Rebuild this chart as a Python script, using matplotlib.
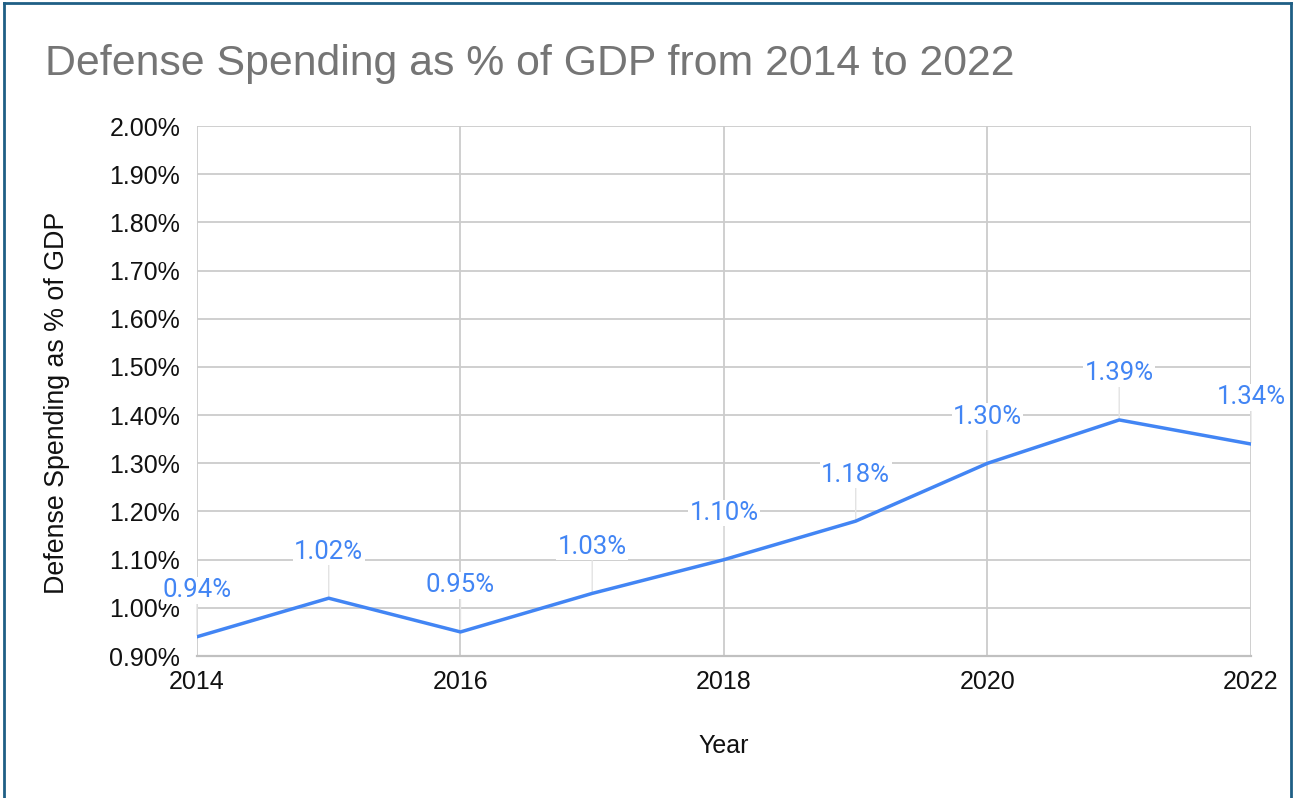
import matplotlib
matplotlib.use('Agg')
import matplotlib.pyplot as plt
from matplotlib.lines import Line2D
from matplotlib.ticker import FuncFormatter, MultipleLocator

years = [2014, 2015, 2016, 2017, 2018, 2019, 2020, 2021, 2022]
spending = [0.94, 1.02, 0.95, 1.03, 1.10, 1.18, 1.30, 1.39, 1.34]
x_ticks = [2014, 2016, 2018, 2020, 2022]

title = "Defense Spending as % of GDP from 2014 to 2022"
line_color = '#4285F4'
grid_color = '#cccccc'

plt.rcParams['font.family'] = ['Liberation Sans', 'DejaVu Sans']

fig = plt.figure(figsize=(12.95, 7.98), dpi=100)
ax = fig.add_axes([0.1521, 0.1779, 0.8139, 0.6642])

ax.plot(years, spending, color=line_color, lw=2.5, zorder=3, solid_joinstyle='round')

# value labels with thin leader lines
for x, y in zip(years, spending):
    ax.annotate(f"{y:.2f}%", xy=(x, y), xytext=(0, 33.5), textcoords='offset points',
                ha='center', va='center', fontsize=18.5, color=line_color,
                family=['Roboto', 'DejaVu Sans'],
                bbox=dict(boxstyle='square,pad=0.05', fc='white', ec='none'),
                arrowprops=dict(arrowstyle='-', color='#e3e3e3', lw=1.0,
                                shrinkA=0, shrinkB=1),
                zorder=2, annotation_clip=False)

ax.set_xlim(2014, 2022)
ax.set_ylim(0.9, 2.0)
ax.set_xticks(x_ticks)
ax.yaxis.set_major_locator(MultipleLocator(0.1))
ax.yaxis.set_major_formatter(FuncFormatter(lambda v, p: f"{v:.2f}%"))

ax.grid(True, color=grid_color, lw=1.3, zorder=0)
ax.set_axisbelow(True)
for side in ['top', 'right', 'left']:
    ax.spines[side].set_visible(False)
ax.spines['bottom'].set_color('#c0c0c0')
ax.spines['bottom'].set_linewidth(1.6)
ax.tick_params(axis='both', length=0, labelsize=18, colors='#111111')
ax.tick_params(axis='y', pad=12)
ax.tick_params(axis='x', pad=10)

ax.set_xlabel("Year", fontsize=18, color='#111111', labelpad=29)
ax.set_ylabel("Defense Spending as % of GDP", fontsize=19.3, color='#111111', va='center')
ax.yaxis.set_label_coords(-0.133, 0.477)

fig.text(0.0347, 0.92, title, fontsize=30.8, color='#757575', ha='left', va='center')

# frame around the chart (no bottom edge)
border = '#1f5f85'
fig.add_artist(Line2D([0.003, 0.003], [0, 0.996], transform=fig.transFigure, color=border, lw=2))
fig.add_artist(Line2D([0.003, 0.997], [0.996, 0.996], transform=fig.transFigure, color=border, lw=2))
fig.add_artist(Line2D([0.997, 0.997], [0, 0.996], transform=fig.transFigure, color=border, lw=2))

fig.savefig('out.png', dpi=100, facecolor='white')
